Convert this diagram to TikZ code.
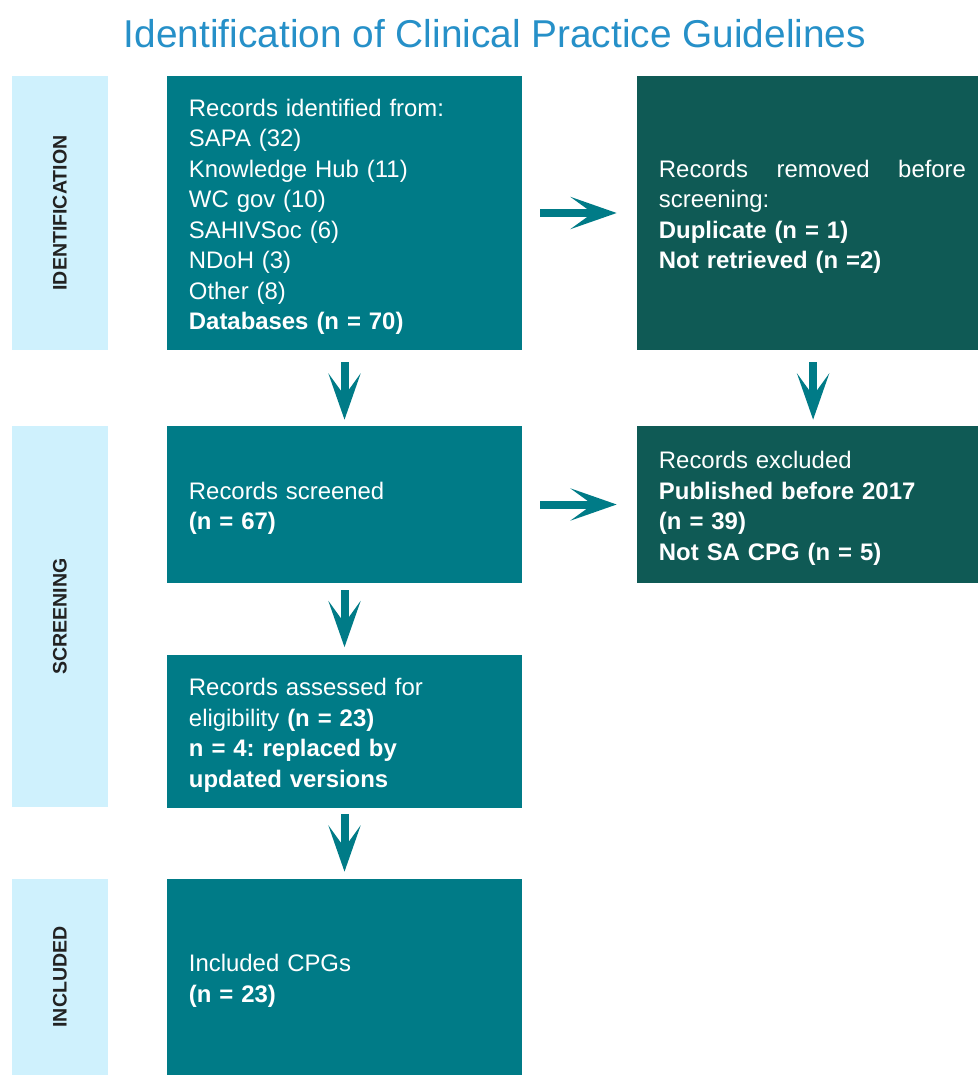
\documentclass[tikz,border=0pt]{standalone}
\usepackage{fontspec}
\setmainfont{Liberation Sans}
\usetikzlibrary{arrows.meta}
\frenchspacing
\definecolor{tealbox}{HTML}{007B87}
\definecolor{darkteal}{HTML}{0F5A55}
\definecolor{stagebar}{HTML}{CFF1FD}
\definecolor{titleblue}{HTML}{2690C8}
\definecolor{stagetext}{HTML}{222222}
\tikzset{
  flowbox/.style={fill=tealbox, draw=none, text=white, align=left, inner xsep=0.55cm, inner ysep=0pt,
    minimum width=8.875cm, text width=7.775cm, font=\fontsize{17}{21.7}\selectfont,
    execute at begin node=\rule{0pt}{18pt}},
  sidebox/.style={flowbox, fill=darkteal, minimum width=8.525cm, text width=7.425cm},
  stagebar/.style={fill=stagebar, draw=none, rotate=90, minimum height=2.4cm, inner sep=0pt,
    text=stagetext, font=\fontsize{13.9}{16}\selectfont\bfseries},
  flowarrow/.style={draw=tealbox, line width=0.2cm, -{Stealth[length=1.15cm, width=0.8cm, inset=0.55cm]}}
}
\begin{document}
\begin{tikzpicture}[x=0.025cm, y=-0.025cm]
  \useasboundingbox (0,0) rectangle (978,1075);
  \node[text=titleblue, font=\fontsize{27.6}{33}\selectfont] (title) at (495,34) {Identification of Clinical Practice Guidelines};

  \node[stagebar, minimum width=6.85cm] (identification) at (60,213) {IDENTIFICATION};
  \node[stagebar, minimum width=9.525cm] (screening) at (60,616.5) {SCREENING};
  \node[stagebar, minimum width=4.9cm] (included) at (60,977) {INCLUDED};

  \node[flowbox, minimum height=6.85cm] (identified) at (344.5,213) {Records identified from:\\SAPA (32)\\Knowledge Hub (11)\\WC gov (10)\\SAHIVSoc (6)\\NDoH (3)\\Other (8)\\\textbf{Databases (n = 70)}};
  \node[sidebox, minimum height=6.85cm] (removed) at (807.5,213) {\makebox[7.675cm][s]{Records \hfill removed \hfill before}\\screening:\\\textbf{Duplicate (n = 1)}\\\textbf{Not retrieved (n =2)}};
  \node[flowbox, minimum height=3.925cm] (screened) at (344.5,504.5) {Records screened\\\textbf{(n = 67)}};
  \node[sidebox, minimum height=3.925cm] (excluded) at (807.5,504.5) {Records excluded\\\textbf{Published before 2017}\\\textbf{(n = 39)}\\\textbf{Not SA CPG (n = 5)}};
  \node[flowbox, minimum height=3.8cm] (assessed) at (344.5,731.5) {Records assessed for\\eligibility \textbf{(n = 23)}\\\textbf{n = 4: replaced by}\\\textbf{updated versions}};
  \node[flowbox, minimum height=4.9cm] (cpgs) at (344.5,977) {Included CPGs\\\textbf{(n = 23)}};

  \draw[flowarrow, shorten <=0.45cm, shorten >=0.5cm] (identified) -- (removed);
  \draw[flowarrow, shorten <=0.45cm, shorten >=0.5cm] (screened) -- (excluded);
  \draw[flowarrow, shorten <=0.3cm, shorten >=0.15cm] (identified) -- (screened);
  \draw[flowarrow, shorten <=0.3cm, shorten >=0.15cm] ([xshift=0.14cm]removed.south) -- ([xshift=0.14cm]excluded.north);
  \draw[flowarrow, shorten <=0.175cm, shorten >=0.2cm] (screened) -- (assessed);
  \draw[flowarrow, shorten <=0.15cm, shorten >=0.175cm] (assessed) -- (cpgs);
\end{tikzpicture}
\end{document}
